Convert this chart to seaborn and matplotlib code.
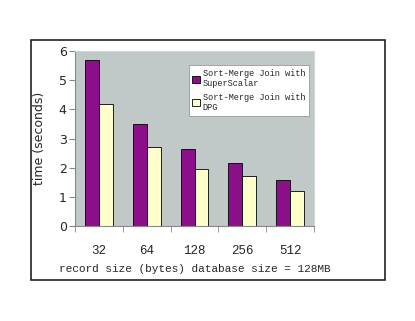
import numpy as np
import pandas as pd
import seaborn as sns
import matplotlib.pyplot as plt
from matplotlib.patches import Rectangle

sizes = ['32', '64', '128', '256', '512']
superscalar = [5.7, 3.5, 2.65, 2.15, 1.57]
dpg = [4.17, 2.7, 1.97, 1.7, 1.2]
series = ['Sort-Merge Join with\nSuperScalar', 'Sort-Merge Join with\nDPG']

data = pd.DataFrame({
    'size': sizes * 2,
    'time': superscalar + dpg,
    'method': [series[0]] * 5 + [series[1]] * 5,
})

sns.set_style('white')
fig = plt.figure(figsize=(4.15, 3.21), dpi=100)
ax = fig.add_axes([75 / 415, 1 - 226 / 321, 239 / 415, 175 / 321])

sns.barplot(data=data, x='size', y='time', hue='method', ax=ax,
            palette=['#8B0F8B', '#FFFFCC'], width=0.58, saturation=1,
            edgecolor='black', linewidth=0.6)

ax.set_facecolor('#C0C8C8')
ax.set_ylim(0, 6)
ax.set_xlim(-0.5, 4.5)
ax.set_yticks(range(7))
ax.set_xticks(np.arange(-0.5, 5, 1), minor=True)
ax.tick_params(axis='x', which='major', length=0, pad=14)
ax.tick_params(axis='x', which='minor', length=4, color='#888888', direction='out')
ax.tick_params(axis='y', length=4, color='#888888', direction='out', labelsize=9, pad=2)
ax.xaxis.set_ticks_position('bottom')
ax.yaxis.set_ticks_position('left')
for lab in ax.get_xticklabels():
    lab.set_family('Liberation Mono')
    lab.set_fontsize(9)
for s in ['top', 'right']:
    ax.spines[s].set_color('#D0D8D8')
for s in ['left', 'bottom']:
    ax.spines[s].set_color('#888888')

ax.set_xlabel('record size (bytes) database size = 128MB', family='Liberation Mono',
              fontsize=8, labelpad=5)
ax.set_ylabel('time (seconds)', fontsize=9, labelpad=9)

leg = ax.legend(loc='upper left', bbox_to_anchor=(0.475, 0.92), frameon=True,
                fancybox=False, framealpha=1, edgecolor='#999999',
                prop={'family': 'Liberation Mono', 'size': 6.2},
                handlelength=0.9, handleheight=0.9, handletextpad=0.3,
                borderpad=0.45, labelspacing=0.5, borderaxespad=0)
leg.get_frame().set_linewidth(0.6)

fig.patches.append(Rectangle((30.5 / 415, 1 - 280 / 321), 354 / 415, 240 / 321,
                             transform=fig.transFigure, fill=False,
                             edgecolor='#222222', linewidth=1.2))

fig.savefig('out.png', dpi=100)
